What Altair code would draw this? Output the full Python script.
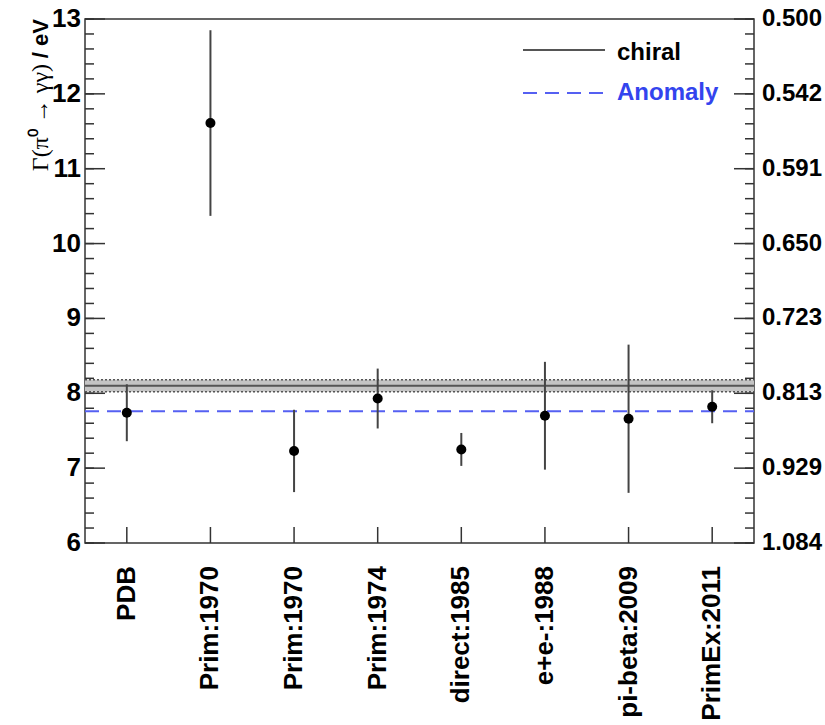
import altair as alt
import pandas as pd

# ---- data ----
categories = ["PDB", "Prim:1970", "Prim:1970", "Prim:1974", "direct:1985",
              "e+e-:1988", "pi-beta:2009", "PrimEx:2011"]
positions = [0, 1, 2, 3, 4, 5, 6, 7]
gamma = [7.74, 11.61, 7.23, 7.93, 7.25, 7.70, 7.66, 7.82]
gamma_err = [0.38, 1.24, 0.55, 0.40, 0.22, 0.72, 0.99, 0.22]
chiral_value = [8.10]
chiral_err = [0.08]
anomaly_value = [7.76]
y_ticks = [6, 7, 8, 9, 10, 11, 12, 13]
y_tick_labels = ["6", "7", "8", "9", "10", "11", "12", "13"]
tau_labels = ["1.084", "0.929", "0.813", "0.723", "0.650", "0.591", "0.542", "0.500"]
legend_labels = ["chiral", "Anomaly"]
y_title_parts = ["Γ(π⁰ → γγ)", " / eV"]

W, H = 669, 524
FONT = "Liberation Sans"
SERIF = "Liberation Serif"
FRAME = "#333333"
BAR = "#444444"
BLUE_LINE = "#5560f2"
BLUE_TEXT = "#3344ee"

df = pd.DataFrame({"pos": positions, "name": categories, "g": gamma, "err": gamma_err})
df["lo"] = df["g"] - df["err"]
df["hi"] = df["g"] + df["err"]

band_df = pd.DataFrame({"c": chiral_value, "e": chiral_err})
band_df["lo"] = band_df["c"] - band_df["e"]
band_df["hi"] = band_df["c"] + band_df["e"]
anom_df = pd.DataFrame({"a": anomaly_value})
ticks_df = pd.DataFrame({"v": y_ticks, "lab": y_tick_labels, "tau": tau_labels})

xscale = alt.Scale(domain=[-0.5, 7.5], nice=False, zero=False)
yscale = alt.Scale(domain=[6, 13], nice=False, zero=False)


def Y(field):
    return alt.Y(field, scale=yscale, axis=None)


def X(field):
    return alt.X(field, scale=xscale, axis=None)


# chiral band
band = alt.Chart(band_df).mark_rect(color="#c4c4c4").encode(
    y=Y("lo:Q"), y2="hi:Q", x=alt.value(0), x2=alt.value(W))
band_lo = alt.Chart(band_df).mark_rule(color="#555555", strokeWidth=1.5, strokeDash=[2, 2]).encode(
    y=Y("lo:Q"), x=alt.value(0), x2=alt.value(W))
band_hi = alt.Chart(band_df).mark_rule(color="#555555", strokeWidth=1.5, strokeDash=[2, 2]).encode(
    y=Y("hi:Q"), x=alt.value(0), x2=alt.value(W))
band_c = alt.Chart(band_df).mark_rule(color="#555555", strokeWidth=2).encode(
    y=Y("c:Q"), x=alt.value(0), x2=alt.value(W))

anom = alt.Chart(anom_df).mark_rule(color=BLUE_LINE, strokeWidth=2, strokeDash=[14, 8]).encode(
    y=Y("a:Q"), x=alt.value(0), x2=alt.value(W))

errbars = alt.Chart(df).mark_rule(color=BAR, strokeWidth=2).encode(
    x=X("pos:Q"), y=Y("lo:Q"), y2="hi:Q")
points = alt.Chart(df).mark_point(filled=True, color="black", size=100, opacity=1).encode(
    x=X("pos:Q"), y=Y("g:Q"))

# inward tick marks
minor_seq = alt.sequence(6, 13.01, 0.2, as_="v")
left_major = alt.Chart(ticks_df).mark_rule(color=FRAME, strokeWidth=1.5).encode(
    y=Y("v:Q"), x=alt.value(0), x2=alt.value(20))
left_minor = alt.Chart(minor_seq).mark_rule(color=FRAME, strokeWidth=1.5).encode(
    y=Y("v:Q"), x=alt.value(0), x2=alt.value(9))
right_major = alt.Chart(ticks_df).mark_rule(color=FRAME, strokeWidth=1.5).encode(
    y=Y("v:Q"), x=alt.value(W - 20), x2=alt.value(W))
right_minor = alt.Chart(minor_seq).mark_rule(color=FRAME, strokeWidth=1.5).encode(
    y=Y("v:Q"), x=alt.value(W - 9), x2=alt.value(W))
bottom_ticks = alt.Chart(df).mark_rule(color=FRAME, strokeWidth=1.5).encode(
    x=X("pos:Q"), y=alt.value(H), y2=alt.value(H - 16))

# tick labels
left_labels = alt.Chart(ticks_df).mark_text(
    align="right", baseline="middle", font=FONT, fontWeight="bold", fontSize=26, color="black").encode(
    y=Y("v:Q"), text="lab:N", x=alt.value(-4))
right_labels = alt.Chart(ticks_df).mark_text(
    align="left", baseline="middle", font=FONT, fontWeight="bold", fontSize=24, color="black").encode(
    y=Y("v:Q"), text="tau:N", x=alt.value(W + 8))
x_labels = alt.Chart(df).mark_text(
    align="right", baseline="middle", angle=270, font=FONT, fontWeight="bold", fontSize=26,
    color="black").encode(x=X("pos:Q"), text="name:N", y=alt.value(H + 23))

# y-axis title (serif symbol part + bold unit part)
title_a = alt.Chart(pd.DataFrame({"t": [y_title_parts[0]]})).mark_text(
    align="right", baseline="bottom", angle=270, font=SERIF, fontSize=24, color="black").encode(
    text="t:N", x=alt.value(-32), y=alt.value(45))
title_b = alt.Chart(pd.DataFrame({"t": [y_title_parts[1]]})).mark_text(
    align="right", baseline="bottom", angle=270, font=FONT, fontWeight="bold", fontSize=22,
    color="black").encode(text="t:N", x=alt.value(-32), y=alt.value(0))

# legend
leg_line1 = alt.Chart(pd.DataFrame({"t": [legend_labels[0]]})).mark_rule(color="#555555", strokeWidth=2).encode(
    x=alt.value(438), x2=alt.value(520), y=alt.value(31))
leg_text1 = alt.Chart(pd.DataFrame({"t": [legend_labels[0]]})).mark_text(
    align="left", baseline="alphabetic", font=FONT, fontWeight="bold", fontSize=24, color="black").encode(
    text="t:N", x=alt.value(532), y=alt.value(41))
leg_line2 = alt.Chart(pd.DataFrame({"t": [legend_labels[1]]})).mark_rule(
    color=BLUE_LINE, strokeWidth=2, strokeDash=[14, 8]).encode(
    x=alt.value(438), x2=alt.value(520), y=alt.value(74))
leg_text2 = alt.Chart(pd.DataFrame({"t": [legend_labels[1]]})).mark_text(
    align="left", baseline="alphabetic", font=FONT, fontWeight="bold", fontSize=24, color=BLUE_TEXT).encode(
    text="t:N", x=alt.value(532), y=alt.value(81))

chart = alt.layer(band, band_lo, band_hi, band_c, anom, errbars, points,
                  left_major, left_minor, right_major, right_minor, bottom_ticks,
                  left_labels, right_labels, x_labels, title_a, title_b,
                  leg_line1, leg_text1, leg_line2, leg_text2).properties(
    width=W, height=H,
    padding={"left": 85, "top": 19, "right": 825 - 85 - W, "bottom": 725 - 19 - H},
    autosize=alt.AutoSizeParams(type="none"),
    background="white",
).configure_view(stroke=FRAME, strokeWidth=1.5)

chart.save("out.html", embed_options={"renderer": "svg", "actions": False})
